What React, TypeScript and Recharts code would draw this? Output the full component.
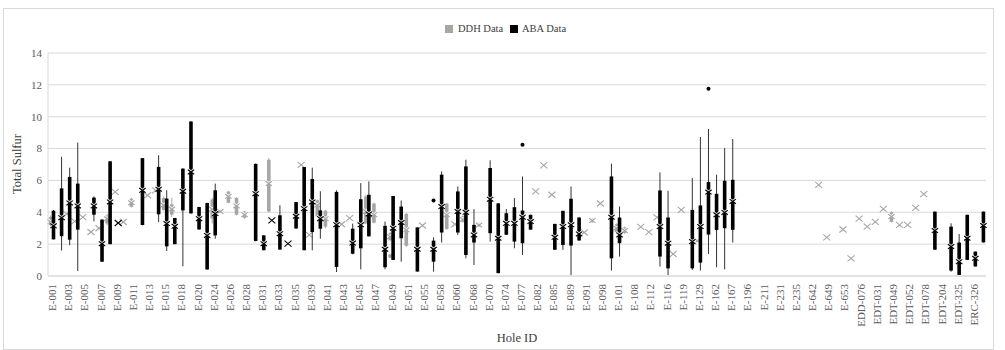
import { ComposedChart, Bar, XAxis, YAxis, CartesianGrid } from 'recharts'

const serif = '"Liberation Serif", "DejaVu Serif", serif'

const holes = [
  'E-001', 'E-002', 'E-003', 'E-004', 'E-005', 'E-006', 'E-007', 'E-008', 'E-009', 'E-010',
  'E-011', 'E-012', 'E-013', 'E-014', 'E-015', 'E-016', 'E-018', 'E-019', 'E-020', 'E-022',
  'E-024', 'E-025', 'E-026', 'E-027', 'E-028', 'E-030', 'E-031', 'E-032', 'E-033', 'E-034',
  'E-035', 'E-037', 'E-039', 'E-040', 'E-041', 'E-042', 'E-043', 'E-044', 'E-045', 'E-046',
  'E-047', 'E-048', 'E-049', 'E-050', 'E-051', 'E-053', 'E-055', 'E-056', 'E-058', 'E-059',
  'E-060', 'E-064', 'E-068', 'E-069', 'E-070', 'E-072', 'E-074', 'E-075', 'E-077', 'E-079',
  'E-082', 'E-084', 'E-085', 'E-087', 'E-089', 'E-090', 'E-091', 'E-095', 'E-098', 'E-099',
  'E-101', 'E-105', 'E-108', 'E-110', 'E-112', 'E-114', 'E-116', 'E-117', 'E-119', 'E-124',
  'E-129', 'E-145', 'E-162', 'E-165', 'E-167', 'E-185', 'E-196', 'E-205', 'E-211', 'E-225',
  'E-231', 'E-233', 'E-235', 'E-301', 'E-642', 'E-645', 'E-649', 'E-651', 'E-653', 'EDD-075',
  'EDD-076', 'EDT-030', 'EDT-031', 'EDT-048', 'EDT-049', 'EDT-050', 'EDT-052', 'EDT-077', 'EDT-078', 'EDT-203',
  'EDT-204', 'EDT-324', 'EDT-325', 'ERC-325', 'ERC-326', 'ERC-327',
]

// [min, q1, mean, q3, max]; a single number = one sample
type Stats = number[] | null

const ddhStats: Stats[] = [
  [3.1, 3.2, 3.4, 3.7, 3.8], null, [3.9], [3.43], [3.7], [2.76], [3.0], [3.2, 3.3, 3.6, 3.8, 3.9], [5.28], [3.39],
  [4.3, 4.35, 4.6, 4.85, 4.9], null, [5.07], [5.38], [4.1, 4.15, 4.45, 4.9, 5.0], [3.7, 3.85, 4.2, 4.5, 4.9], null, null, null, null,
  [3.3, 3.6, 4.2, 4.8, 4.9], [3.95, 3.97, 4.05, 4.12, 4.15], [4.57, 4.6, 5.0, 5.3, 5.35], [3.8, 3.85, 4.4, 4.9, 4.95], [3.6, 3.65, 3.85, 4.05, 4.1], null, null, [4.0, 4.05, 5.8, 7.3, 7.4], null, null,
  null, [6.98], [2.58], [3.7, 3.75, 4.45, 4.75, 4.8], [3.0, 3.1, 3.6, 4.1, 4.15], null, [3.25], [3.63], null, [3.25, 3.3, 4.05, 5.0, 5.1],
  [3.3, 3.35, 3.85, 4.55, 4.6], null, [2.2, 2.25, 2.47, 2.7, 2.75], null, [1.83, 1.9, 2.9, 3.9, 3.96], null, [3.17], null, null, [2.9, 2.95, 3.85, 4.55, 4.59],
  [3.25], [3.35, 3.4, 3.55, 3.75, 3.8], null, [3.1, 3.12, 3.2, 3.3, 3.35], null, null, null, null, null, null,
  [5.31], [6.94], [5.1], null, null, null, [2.73], [3.35, 3.38, 3.48, 3.6, 3.62], [4.55], null,
  [2.7, 2.75, 3.0, 3.25, 3.3], [2.65, 2.7, 2.85, 3.05, 3.1], null, [3.08], [2.75], [3.68], null, [1.38], [4.15], null,
  [2.2], null, null, null, null, null, null, null, null, null,
  null, null, null, null, null, [5.72], [2.43], null, [2.92], [1.11],
  [3.6], [3.1], [3.4], [4.21], [3.36, 3.4, 3.73, 4.0, 4.05], [3.21], [3.21], [4.28], [5.14], null,
  null, null, null, null, null, null,
]

const abaStats: Stats[] = [
  [2.3, 2.3, 3.15, 4.1, 4.15], [1.6, 2.5, 3.66, 5.5, 7.48], [1.93, 2.28, 4.59, 6.22, 6.8], [0.31, 2.91, 4.4, 5.8, 8.38], null, [3.43, 3.85, 4.4, 4.92, 5.0], [0.88, 0.9, 2.03, 3.54, 3.56], [1.99, 2.0, 4.65, 7.2, 7.22], [3.33], null,
  null, [3.18, 3.2, 5.38, 7.4, 7.41], null, [3.39, 3.87, 5.45, 6.85, 7.58], [1.57, 1.86, 3.29, 4.86, 5.38], [1.99, 2.0, 3.12, 3.64, 3.65], [0.61, 4.12, 5.32, 6.74, 6.76], [3.92, 3.93, 6.53, 9.7, 9.72], [2.91, 2.92, 3.6, 4.33, 4.34], [0.4, 0.41, 2.55, 4.58, 4.6],
  [2.34, 2.55, 3.92, 5.38, 5.8], null, null, null, null, [2.18, 2.2, 5.17, 7.04, 7.06], [1.61, 1.62, 2.03, 2.55, 2.56], [3.49], [1.65, 1.66, 2.66, 3.81, 4.44], [2.03],
  [2.97, 2.98, 3.75, 4.64, 4.65], [1.61, 1.62, 4.23, 6.84, 6.85], [1.61, 2.76, 4.65, 6.09, 6.8], [2.34, 2.97, 3.6, 4.12, 5.32], null, [0.25, 0.57, 3.22, 5.28, 5.38], null, [1.36, 1.4, 2.07, 2.97, 3.29], [0.42, 1.74, 3.21, 4.82, 5.83], [2.48, 2.49, 3.9, 5.1, 5.94],
  null, [0.42, 0.55, 1.68, 3.15, 3.42], [1.0, 1.01, 3.0, 5.02, 5.03], [0.9, 2.37, 3.36, 4.36, 4.74], null, [0.27, 0.28, 1.68, 3.05, 3.06], null, [0.27, 0.9, 1.68, 2.22, 2.43], [2.1, 2.73, 4.36, 6.36, 6.57], null,
  [2.58, 2.73, 4.05, 5.31, 5.62], [1.11, 1.32, 4.0, 6.88, 7.3], [0.69, 2.1, 2.58, 3.21, 4.2], null, [2.16, 2.69, 4.82, 6.78, 7.26], [0.17, 0.18, 2.37, 4.56, 4.57], [2.58, 2.59, 3.31, 3.94, 4.2], [1.74, 2.16, 3.31, 4.32, 4.89], [1.32, 2.06, 3.69, 4.11, 6.25], [2.9, 2.91, 3.42, 3.84, 3.85],
  null, null, [1.64, 1.65, 2.43, 3.27, 3.28], [1.64, 1.95, 3.1, 4.09, 4.1], [0.06, 1.91, 3.21, 4.85, 5.62], [2.22, 2.23, 2.64, 3.67, 3.68], null, null, null, [0.34, 1.11, 3.69, 6.25, 7.05],
  [1.22, 2.06, 2.58, 3.67, 4.36], null, null, null, null, [0.59, 1.22, 3.1, 5.37, 6.5], [0.06, 0.48, 2.06, 3.67, 5.35], null, null, [0.38, 0.48, 2.16, 4.15, 6.15],
  [0.34, 0.84, 3.1, 4.43, 8.73], [1.38, 2.6, 5.27, 5.9, 9.23], [0.55, 2.89, 3.84, 5.16, 6.36], [0.42, 3.0, 3.99, 5.98, 8.03], [2.1, 2.9, 4.68, 6.04, 8.6], null, null, null, null, null,
  null, null, null, null, null, null, null, null, null, null,
  null, null, null, null, null, null, null, null, null, [1.64, 1.65, 2.85, 4.04, 4.05],
  null, [0.27, 0.34, 1.85, 3.1, 3.31], [0.06, 0.07, 0.9, 2.1, 2.64], [1.0, 1.01, 2.37, 3.84, 3.85], [0.59, 0.6, 1.11, 1.53, 1.54], [2.1, 2.11, 3.17, 4.04, 4.05],
]

const ddhOutliers: [string, number][] = [['E-049', 1.26]]
const abaOutliers: [string, number][] = [['E-056', 4.74], ['E-077', 8.24], ['E-145', 11.75]]

const yTicks = [0, 2, 4, 6, 8, 10, 12, 14]

function expand(s: Stats) {
  if (!s) return null
  if (s.length === 1) return { min: s[0], q1: s[0], mean: s[0], q3: s[0], max: s[0] }
  return { min: s[0], q1: s[1], mean: s[2], q3: s[3], max: s[4] }
}

const data = holes.map((hole, i) => {
  const ddh = expand(ddhStats[i])
  const aba = expand(abaStats[i])
  const ddhOut = ddhOutliers.filter(o => o[0] === hole).map(o => o[1])
  const abaOut = abaOutliers.filter(o => o[0] === hole).map(o => o[1])
  return {
    hole,
    ddh,
    aba,
    ddhOut,
    abaOut,
    ddhRange: ddh ? [Math.min(ddh.min, ...ddhOut), Math.max(ddh.max, ...ddhOut)] : null,
    abaRange: aba ? [Math.min(aba.min, ...abaOut), Math.max(aba.max, ...abaOut)] : null,
  }
})

const looks = {
  ddh: { box: '#a6a6a6', whisker: '#a6a6a6', mark: '#a6a6a6' },
  aba: { box: '#000000', whisker: '#333333', mark: '#000000' },
}

function boxShape(key: 'ddh' | 'aba') {
  const look = looks[key]
  return (props: any) => {
    const { x, y, width, height, payload } = props
    const s = payload[key]
    if (!s) return <g />
    const [lo, hi] = payload[key + 'Range']
    // position inside the range bar that recharts already scaled
    const py = (v: number) => (hi === lo ? y : y + (height * (hi - v)) / (hi - lo))
    const cx = x + width / 2
    const single = s.min === s.max
    const m = py(s.mean)
    const hw = single ? 3.5 : 3.2
    const hh = single ? 3 : 2.3
    const outs: number[] = payload[key + 'Out']
    return (
      <g>
        {!single && <line x1={cx} x2={cx} y1={py(s.max)} y2={py(s.min)} stroke={look.whisker} strokeWidth={1} />}
        {!single && s.q3 > s.q1 && (
          <rect x={cx - 1.8} y={py(s.q3)} width={3.6} height={py(s.q1) - py(s.q3)} fill={look.box} />
        )}
        {!single && (
          <g stroke="#ffffff" strokeWidth={1.4} opacity={0.8}>
            <line x1={cx - hw} y1={m - hh - 1} x2={cx + hw} y2={m + hh - 1} />
            <line x1={cx - hw} y1={m + hh - 1} x2={cx + hw} y2={m - hh - 1} />
          </g>
        )}
        <g stroke={look.mark} strokeWidth={1.1}>
          <line x1={cx - hw} y1={m - hh} x2={cx + hw} y2={m + hh} />
          <line x1={cx - hw} y1={m + hh} x2={cx + hw} y2={m - hh} />
        </g>
        {outs.map((v, i) => (
          <circle key={i} cx={cx} cy={py(v)} r={2} fill={look.mark} />
        ))}
      </g>
    )
  }
}

function HoleTick(props: any) {
  const { x, y, payload } = props
  return (
    <text
      x={x}
      y={y}
      transform={`rotate(-90 ${x} ${y})`}
      textAnchor="end"
      dominantBaseline="central"
      fontSize={11}
      fontFamily={serif}
      fill="#595959"
    >
      {payload.value}
    </text>
  )
}

export default function App() {
  return (
    <div style={{ position: 'absolute', left: 0, top: 0, width: 1005, height: 350, background: '#fff', fontFamily: serif }}>
      <div style={{ position: 'absolute', left: 3, top: 8, width: 989, height: 340, border: '1px solid #d9d9d9' }} />
      <ComposedChart
        width={1005}
        height={350}
        data={data}
        margin={{ top: 53, right: 19, bottom: 14, left: 0 }}
        barCategoryGap={1}
        barGap={0}
        style={{ position: 'absolute', left: 0, top: 0 }}
      >
        <CartesianGrid vertical={false} stroke="#d9d9d9" />
        <XAxis
          dataKey="hole"
          interval={1}
          tick={(p: any) => <HoleTick {...p} />}
          tickLine={false}
          axisLine={{ stroke: '#d9d9d9' }}
          height={60}
        />
        <YAxis
          domain={[0, 14]}
          ticks={yTicks}
          width={48}
          tickLine={false}
          tickSize={0}
          tickMargin={6}
          axisLine={{ stroke: '#d9d9d9' }}
          tick={{ fill: '#595959', fontSize: 11, fontFamily: serif }}
        />
        <Bar dataKey="ddhRange" fill="#a6a6a6" shape={boxShape('ddh')} isAnimationActive={false} />
        <Bar dataKey="abaRange" fill="#000000" shape={boxShape('aba')} isAnimationActive={false} />
      </ComposedChart>

      {/* legend */}
      <div style={{ position: 'absolute', left: 445, top: 25, width: 8, height: 8, background: '#a6a6a6' }} />
      <div style={{ position: 'absolute', left: 458, top: 22, fontSize: 10.5, lineHeight: '14px', color: '#404040' }}>DDH Data</div>
      <div style={{ position: 'absolute', left: 510, top: 25, width: 8, height: 8, background: '#000' }} />
      <div style={{ position: 'absolute', left: 522, top: 22, fontSize: 10.5, lineHeight: '14px', color: '#404040' }}>ABA Data</div>

      <div
        style={{
          position: 'absolute', left: 17, top: 164, transform: 'translate(-50%, -50%) rotate(-90deg)',
          whiteSpace: 'nowrap', fontSize: 12.5, color: '#404040',
        }}
      >
        Total Sulfur
      </div>
      <div
        style={{
          position: 'absolute', left: 517, top: 338, transform: 'translate(-50%, -50%)',
          whiteSpace: 'nowrap', fontSize: 12.5, color: '#404040',
        }}
      >
        Hole ID
      </div>
    </div>
  )
}
